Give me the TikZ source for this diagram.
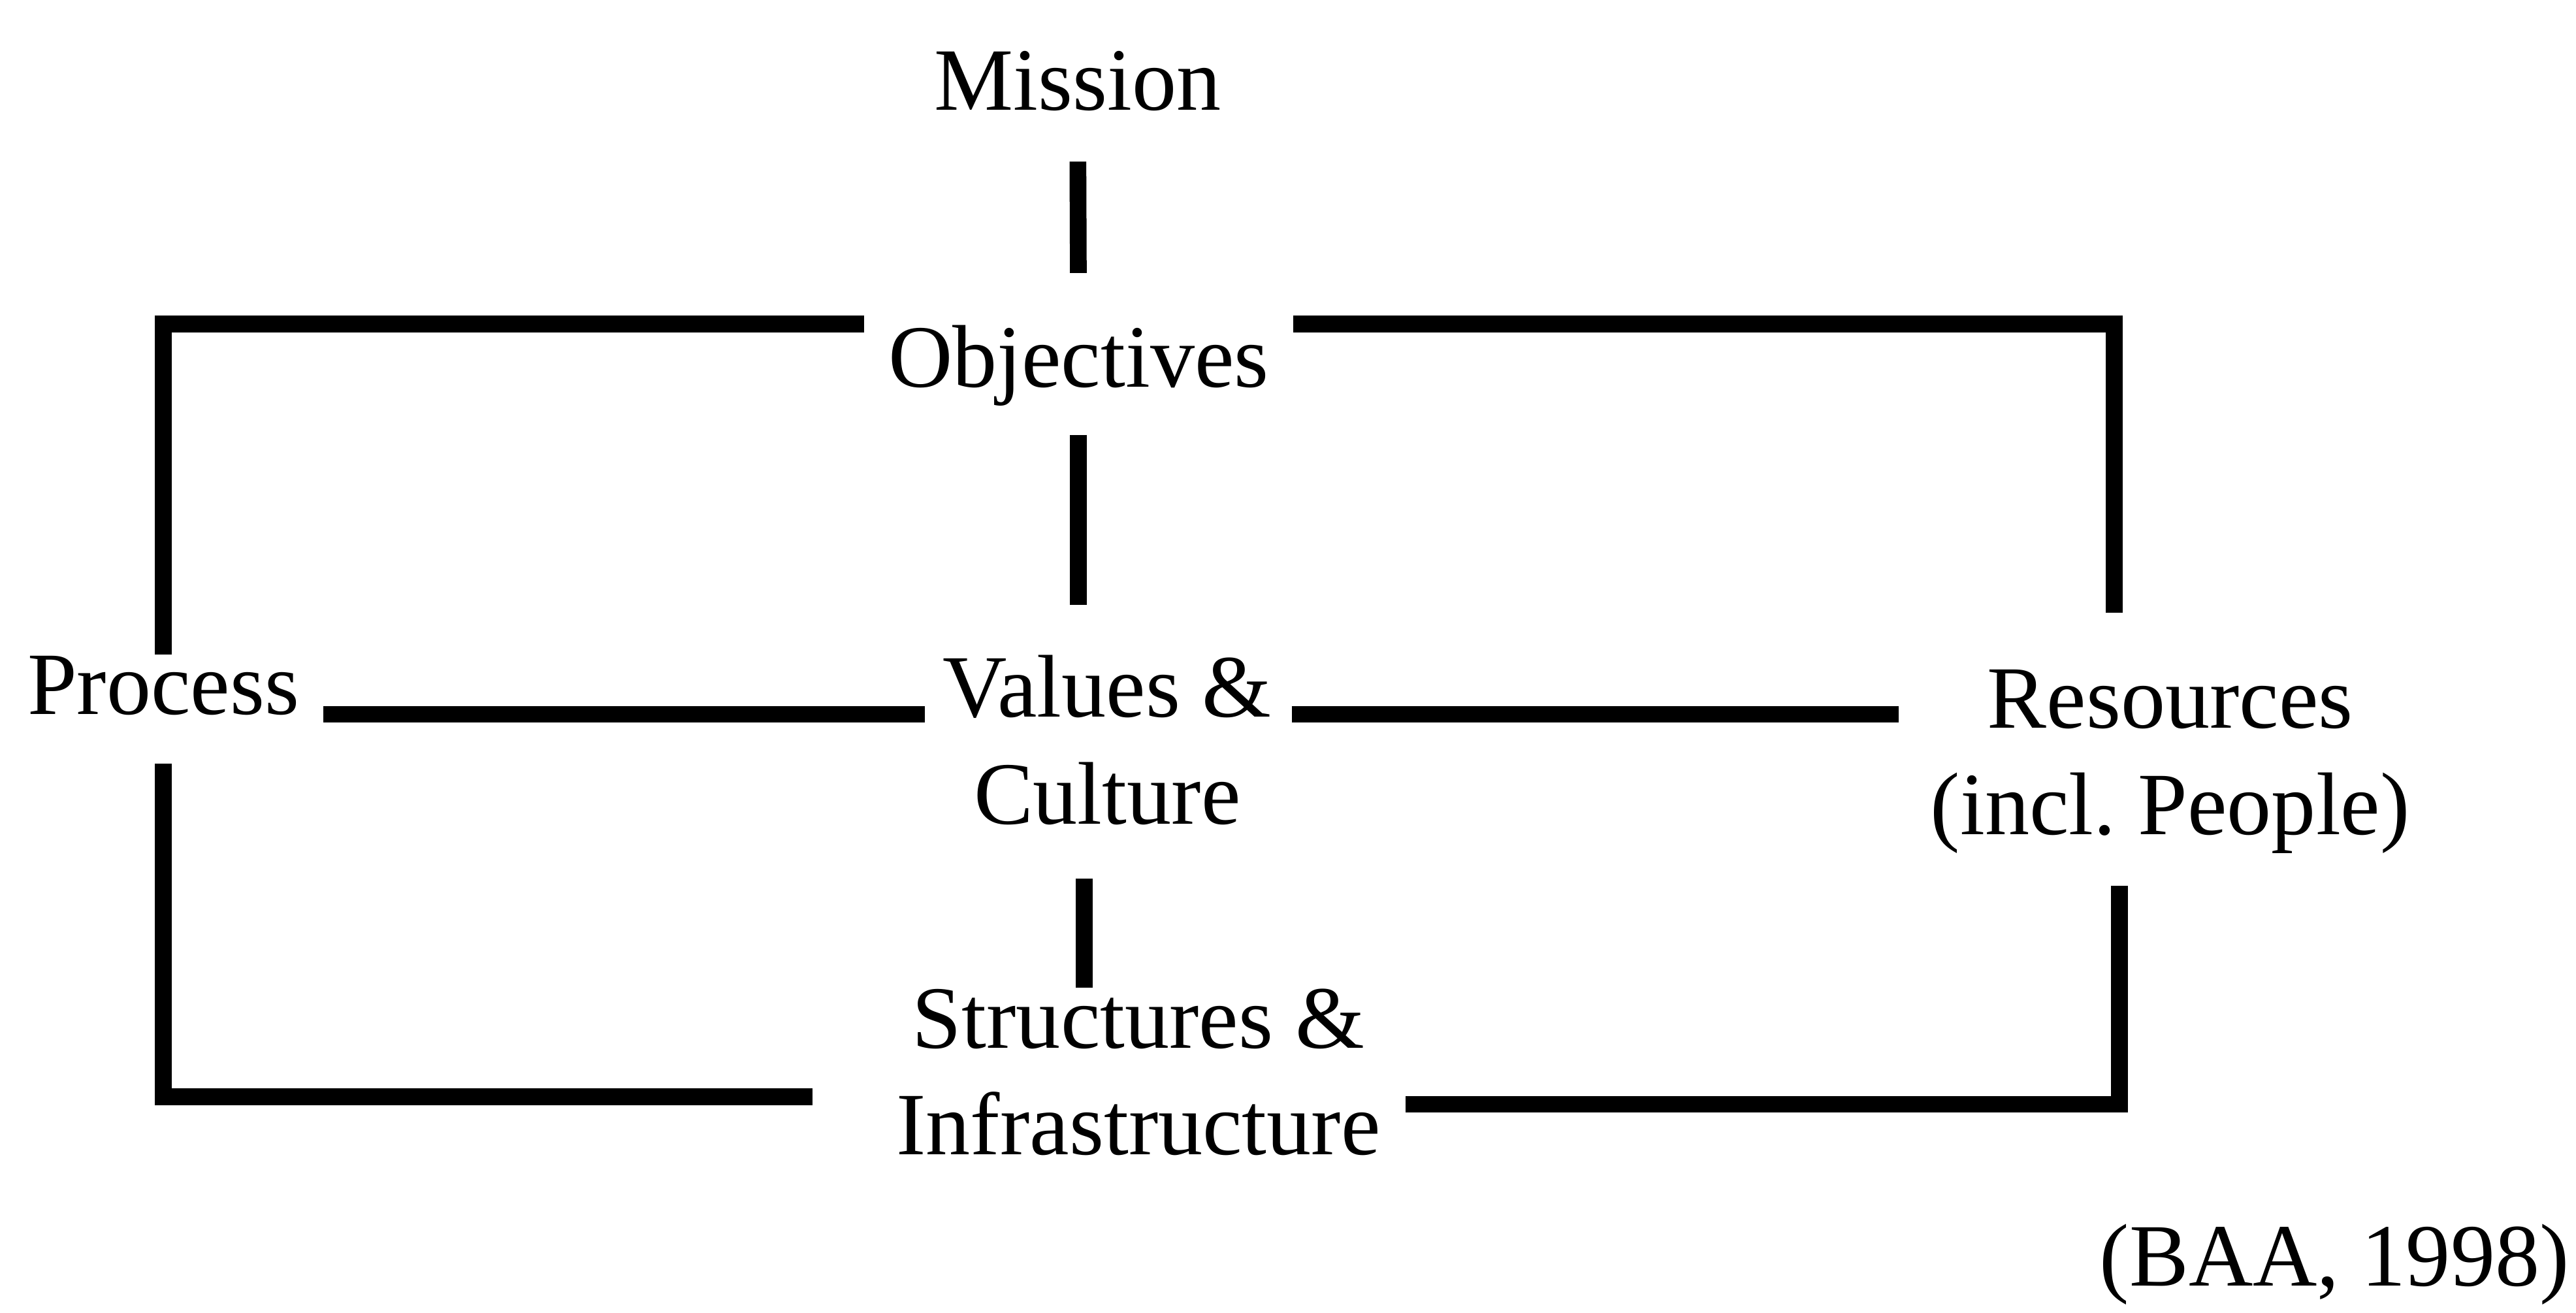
\documentclass[tikz,border=0pt]{standalone}
\usepackage{fontspec}
\setmainfont{Liberation Serif}

\begin{document}
\begin{tikzpicture}[x=0.01cm,y=-0.01cm,
        font=\fontsize{15.4}{18.5}\selectfont,
        txt/.style={inner sep=0pt,align=center},
        link/.style={line width=2.9pt}]
        \useasboundingbox (0,0) rectangle (1568,799);

        \node(1) at (656,49.4) [txt] {Mission};
        \node(2) at (656.5,222.4) [txt] {Objectives};
        \node(3) at (99.5,417.2) [txt] {Process};
        \node(4) at (674,450.4) [txt] {Values \&\\Culture};
        \node(5) at (1321,463.5) [txt] {Resources\\(incl.\ People)};
        \node(6) at (693,652.6) [txt] {Structures \&\\Infrastructure};
        \node(7) at (1421,769.5) [txt] {(BAA, 1998)};

        % centre column
        \draw [link,shorten <=3mm,shorten >=3.1mm] (1.south) -- (2.north);
        \draw [link,shorten <=1.7mm,shorten >=3mm] (2.south) -- (2.south |- 4.north);
        \draw [link,shorten <=3.2mm] ([xshift=-1.4mm]4.south) -- ([xshift=-1.4mm]4.south |- 6.north);

        % middle row
        \draw [link,shorten <=1.4mm,shorten >=1.05mm] (3.base east) -- (3.base east -| 4.west);
        \draw [link,shorten <=1.15mm,shorten >=1.85mm] (4.east |- 3.base) -- (5.west |- 3.base);

        % outer frame
        \draw [link,shorten <=1.4mm] (2.north west) -| (3.north);
        \draw [link,shorten <=1.4mm,shorten >=3.4mm] (2.north east) -| ([xshift=-3.4mm]5.north);
        \draw [link,shorten <=2.9mm,shorten >=5.05mm] (3.south) |- ([yshift=-1.5mm]6.west);
        \draw [link,shorten <=1.9mm,shorten >=1.45mm] ([xshift=-3.1mm]5.south) |- ([yshift=-1.95mm]6.east);
\end{tikzpicture}
\end{document}
